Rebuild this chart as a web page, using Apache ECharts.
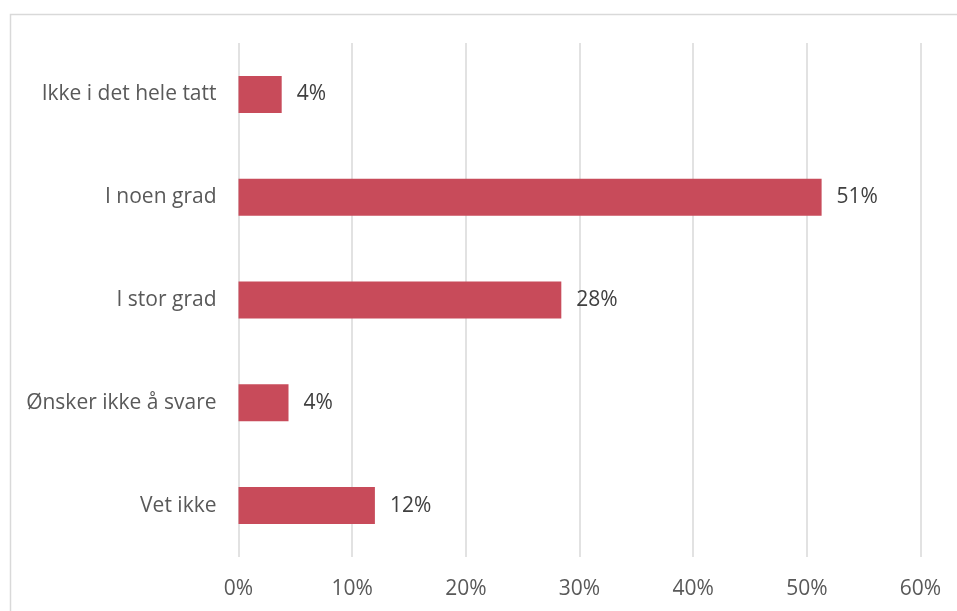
<!DOCTYPE html>
<html>
<head>
<meta charset="utf-8">
<script src="https://cdn.jsdelivr.net/npm/echarts@6/dist/echarts.min.js"></script>
<style>html,body{margin:0;padding:0;background:#fff;}#c{width:957px;height:611px;}</style>
</head>
<body>
<div id="c"></div>
<script>
const categories = ["Ikke i det hele tatt", "I noen grad", "I stor grad", "Ønsker ikke å svare", "Vet ikke"];
const values = [3.8, 51.3, 28.4, 4.4, 12.0];
const xTicks = { min: 0, max: 60, interval: 10 };

const chart = echarts.init(document.getElementById('c'));
chart.setOption({
  animation: false,
  backgroundColor: '#fff',
  graphic: [{
    type: 'rect', silent: true,
    shape: { x: 10.5, y: 14.5, width: 1000, height: 1000 },
    style: { fill: 'none', stroke: '#d9d9d9', lineWidth: 1.5 }
  }],
  grid: { left: 238.5, right: 36.5, top: 43, bottom: 54, containLabel: false },
  xAxis: {
    type: 'value', min: xTicks.min, max: xTicks.max, interval: xTicks.interval,
    axisLine: { show: false }, axisTick: { show: false },
    splitLine: { lineStyle: { color: '#d9d9d9', width: 1.5 } },
    axisLabel: { formatter: v => v + '%', color: '#595959', fontFamily: 'Open Sans', fontSize: 21, margin: 22 }
  },
  yAxis: {
    type: 'category', data: categories, inverse: true,
    axisLine: { show: false }, axisTick: { show: false },
    axisLabel: { color: '#595959', fontFamily: 'Open Sans', fontSize: 21, margin: 22 }
  },
  series: [{
    type: 'bar', data: values, barCategoryGap: '64%',
    itemStyle: { color: '#c84b5a' },
    label: {
      show: true, position: 'right', distance: 15,
      formatter: p => Math.round(p.value) + '%',
      color: '#404040', fontFamily: 'Open Sans', fontSize: 21
    }
  }]
});
</script>
</body>
</html>
